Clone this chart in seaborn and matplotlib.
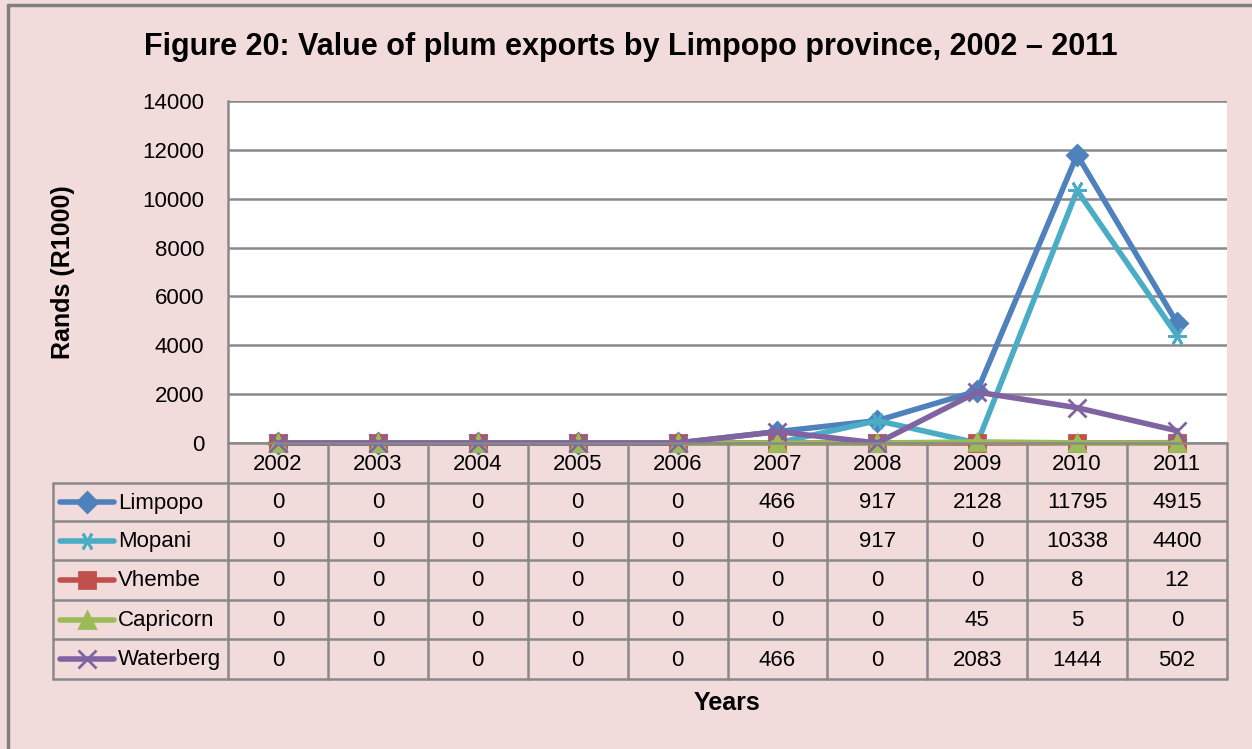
import matplotlib
matplotlib.use('Agg')
import matplotlib.pyplot as plt
import seaborn as sns
from matplotlib.lines import Line2D

years = ['2002', '2003', '2004', '2005', '2006', '2007', '2008', '2009', '2010', '2011']
limpopo = [0, 0, 0, 0, 0, 466, 917, 2128, 11795, 4915]
mopani = [0, 0, 0, 0, 0, 0, 917, 0, 10338, 4400]
vhembe = [0, 0, 0, 0, 0, 0, 0, 0, 8, 12]
capricorn = [0, 0, 0, 0, 0, 0, 0, 45, 5, 0]
waterberg = [0, 0, 0, 0, 0, 466, 0, 2083, 1444, 502]

series_names = ['Limpopo', 'Mopani', 'Vhembe', 'Capricorn', 'Waterberg']
series_values = [limpopo, mopani, vhembe, capricorn, waterberg]
colors = ['#4F81BD', '#4BACC6', '#C0504D', '#9BBB59', '#8064A2']
markers = ['D', (6, 2, 90), 's', '^', 'x']
msizes = [10, 13, 12, 12, 13]

bg = '#F2DCDB'
grid_c = '#898989'

sns.set_style('white')
plt.rcParams['font.family'] = ['Liberation Sans', 'DejaVu Sans']
plt.rcParams['text.color'] = 'black'
plt.rcParams['ytick.color'] = 'black'

W, H = 1252, 749
fig = plt.figure(figsize=(W / 100, H / 100), dpi=100)
fig.patch.set_facecolor(bg)


def fx(x):
    return x / W


def fy(y):
    return 1 - y / H


x0, x1 = 228, 1227
y0, y1 = 101, 443
ax = fig.add_axes([fx(x0), fy(y1), fx(x1) - fx(x0), fy(y0) - fy(y1)])
ax.set_facecolor('white')

xs = list(range(len(years)))
for name, vals, c, m, ms in zip(series_names, series_values, colors, markers, msizes):
    sns.lineplot(x=xs, y=vals, ax=ax, color=c, linewidth=4, marker=m,
                 markersize=ms, markeredgecolor=c, markeredgewidth=2,
                 clip_on=False, legend=False)

ax.set_xlim(-0.5, len(years) - 0.5)
ax.set_ylim(0, 14000)
ax.set_yticks(range(0, 14001, 2000))
ax.set_yticklabels([str(v) for v in range(0, 14001, 2000)], fontsize=16)
ax.tick_params(axis='y', length=0, pad=17)
ax.set_xticks([])
ax.grid(axis='y', color=grid_c, linewidth=1.8)
ax.set_axisbelow(True)
for s in ['top', 'right', 'bottom']:
    ax.spines[s].set_visible(False)
ax.spines['left'].set_color(grid_c)
ax.spines['left'].set_linewidth(1.8)

# data table under the plot
col_w = (x1 - x0) / len(years)
rows = [443, 483, 521, 560, 600, 639, 679]
leg_x = 53


def hline(xa, xb, y):
    fig.add_artist(Line2D([fx(xa), fx(xb)], [fy(y), fy(y)], color=grid_c, lw=1.8))


def vline(x, ya, yb):
    fig.add_artist(Line2D([fx(x), fx(x)], [fy(ya), fy(yb)], color=grid_c, lw=1.8))


hline(x0, x1, rows[0])
for y in rows[1:]:
    hline(leg_x, x1, y)
for i in range(len(years) + 1):
    vline(x0 + i * col_w, rows[0], rows[-1])
vline(leg_x, rows[1], rows[-1])

for i, yr in enumerate(years):
    fig.text(fx(x0 + (i + 0.5) * col_w), fy((rows[0] + rows[1]) / 2 + 1), yr,
             ha='center', va='center', fontsize=16)

for r, (name, vals, c, m, ms) in enumerate(zip(series_names, series_values, colors, markers, msizes)):
    yc = (rows[r + 1] + rows[r + 2]) / 2
    fig.add_artist(Line2D([fx(60), fx(114)], [fy(yc), fy(yc)], color=c, lw=4,
                          solid_capstyle='round'))
    fig.add_artist(Line2D([fx(87)], [fy(yc)], color=c, marker=m, markersize=ms,
                          markeredgecolor=c, markeredgewidth=2, linestyle='none'))
    fig.text(fx(118), fy(yc + 1), name, ha='left', va='center', fontsize=16)
    for i, v in enumerate(vals):
        fig.text(fx(x0 + (i + 0.5) * col_w), fy(yc + 1), str(v),
                 ha='center', va='center', fontsize=16)

# titles
fig.text(fx(631), fy(47), 'Figure 20: Value of plum exports by Limpopo province, 2002 \u2013 2011',
         ha='center', va='center', fontsize=22, fontweight='bold')
fig.text(fx(63), fy(272), 'Rands (R1000)', ha='center', va='center', rotation=90,
         fontsize=18, fontweight='bold')
fig.text(fx(727), fy(703), 'Years', ha='center', va='center', fontsize=18, fontweight='bold')

# frame lines at the top and left edge
fig.add_artist(Line2D([fx(8), fx(8)], [fy(5), 0], color='#7F7F7F', lw=2.5))
fig.add_artist(Line2D([fx(8), 1], [fy(5), fy(5)], color='#7F7F7F', lw=2.5))

fig.savefig('out.png', dpi=100, facecolor=bg)
